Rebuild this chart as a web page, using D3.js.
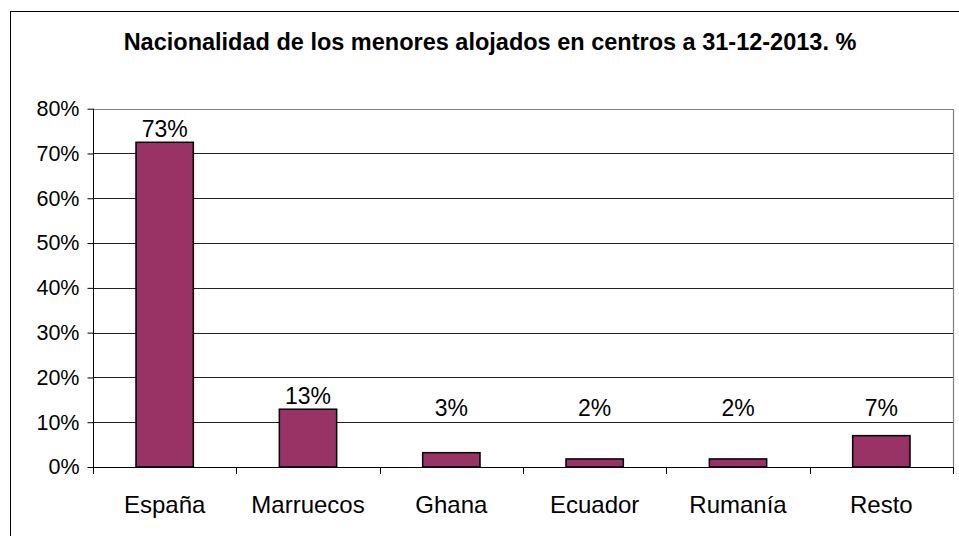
<!DOCTYPE html>
<html>
<head>
<meta charset="utf-8">
<script src="https://cdn.jsdelivr.net/npm/d3@7"></script>
<style>
  html, body { margin: 0; padding: 0; background: #fff; }
  svg { display: block; font-family: Arial, "Liberation Sans", sans-serif; }
</style>
</head>
<body>
<svg id="chart" width="959" height="536"></svg>
<script>
// ── Data ──
var title = 'Nacionalidad de los menores alojados en centros a 31-12-2013. %';
var categories = ['España', 'Marruecos', 'Ghana', 'Ecuador', 'Rumanía', 'Resto'];
var values = [72.5, 12.9, 3.2, 1.8, 1.8, 7.0];
var valueLabels = ['73%', '13%', '3%', '2%', '2%', '7%'];
var yTicks = [0, 10, 20, 30, 40, 50, 60, 70, 80];

(function () {
  'use strict';

  var svg = d3.select('#chart');
  var W = 959, H = 536;
  var plot = { left: 93, right: 953, top: 108.7, bottom: 467 };

  // chart area border (runs past the right and bottom of the frame)
  svg.append('rect')
    .attr('x', 10.5).attr('y', 11.5)
    .attr('width', W + 20).attr('height', H + 20)
    .attr('fill', '#fff').attr('stroke', '#000').attr('stroke-width', 1);

  svg.append('text')
    .attr('x', 490).attr('y', 49.5)
    .attr('text-anchor', 'middle')
    .attr('font-size', 23.5).attr('font-weight', 'bold')
    .text(title);

  var x = d3.scaleBand().domain(categories)
    .range([plot.left, plot.right]).paddingInner(0.6).paddingOuter(0.3);
  var xEdge = d3.scaleLinear().domain([0, categories.length]).range([plot.left, plot.right]);
  var y = d3.scaleLinear().domain([0, 80]).range([plot.bottom, plot.top]);

  // gridlines
  svg.append('g').selectAll('line').data(yTicks.slice(1, -1)).join('line')
    .attr('x1', plot.left).attr('x2', plot.right)
    .attr('y1', function (d) { return Math.round(y(d)) + 0.5; })
    .attr('y2', function (d) { return Math.round(y(d)) + 0.5; })
    .attr('stroke', '#222').attr('stroke-width', 1);

  // plot area border (top / right in gray)
  svg.append('path')
    .attr('d', 'M' + plot.left + ',' + (Math.round(plot.top) + 0.5) + 'H' + (plot.right + 0.5) + 'V' + plot.bottom)
    .attr('fill', 'none').attr('stroke', '#808080').attr('stroke-width', 1.2);

  // bars
  svg.append('g').selectAll('rect').data(values).join('rect')
    .attr('x', function (d, i) { return x(categories[i]); })
    .attr('width', x.bandwidth())
    .attr('y', function (d) { return y(d); })
    .attr('height', function (d) { return y(0) - y(d); })
    .attr('fill', '#993366').attr('stroke', '#000').attr('stroke-width', 1.5);

  // data labels (Excel keeps the small ones at a floor height)
  var labelFloor = y(0) - 51;
  svg.append('g').selectAll('text').data(values).join('text')
    .attr('x', function (d, i) { return x(categories[i]) + x.bandwidth() / 2; })
    .attr('y', function (d) { return Math.min(y(d) - 5, labelFloor); })
    .attr('text-anchor', 'middle').attr('font-size', 23)
    .text(function (d, i) { return valueLabels[i]; });

  // y axis
  var yAxis = d3.axisLeft(y).tickValues(yTicks).tickSize(6).tickPadding(8)
    .tickFormat(function (d) { return d + '%'; });
  var gy = svg.append('g').attr('transform', 'translate(' + (plot.left + 0.5) + ',0)').call(yAxis);
  gy.select('.domain').attr('stroke', '#000').attr('d', 'M0,' + plot.top + 'V' + plot.bottom);
  gy.selectAll('.tick line').attr('stroke', '#000');
  gy.selectAll('.tick text').attr('font-size', 21.5).attr('font-family', null).attr('fill', '#000');

  // x axis: domain line + ticks at category edges
  var gx = svg.append('g');
  gx.append('line')
    .attr('x1', plot.left).attr('x2', plot.right + 1)
    .attr('y1', plot.bottom + 0.5).attr('y2', plot.bottom + 0.5)
    .attr('stroke', '#000').attr('stroke-width', 1.2);
  gx.selectAll('line.tk').data(d3.range(categories.length + 1)).join('line')
    .attr('class', 'tk')
    .attr('x1', function (d) { return Math.round(xEdge(d)) + 0.5; })
    .attr('x2', function (d) { return Math.round(xEdge(d)) + 0.5; })
    .attr('y1', plot.bottom).attr('y2', plot.bottom + 7)
    .attr('stroke', '#000');
  gx.selectAll('text').data(categories).join('text')
    .attr('x', function (d) { return x(d) + x.bandwidth() / 2; })
    .attr('y', 513)
    .attr('text-anchor', 'middle').attr('font-size', 24)
    .text(function (d) { return d; });
})();
</script>
</body>
</html>
